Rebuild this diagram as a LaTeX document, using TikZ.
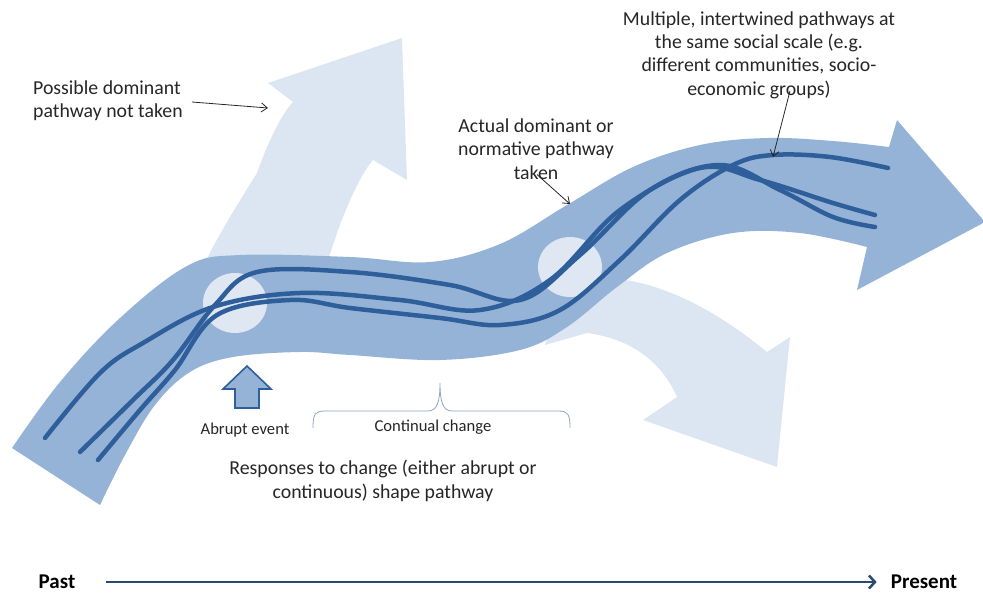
\documentclass[tikz,border=0pt]{standalone}
\usepackage{fontspec}
\setmainfont{Carlito}
\usetikzlibrary{arrows.meta}
\definecolor{bandblue}{HTML}{95B3D7}
\definecolor{lightblue}{HTML}{DCE6F2}
\definecolor{circblue}{HTML}{DEE7F2}
\definecolor{lineblue}{HTML}{2F5F9A}
\definecolor{txt}{HTML}{262626}
\definecolor{axisblue}{HTML}{2B4A73}
\definecolor{bracecol}{HTML}{8CA5C6}
\begin{document}
\begin{tikzpicture}[x=1pt,y=-1pt,
  lbl/.style={font=\fontsize{19.8}{23.4}\selectfont, text=txt, align=center, inner sep=0pt},
  small/.style={font=\fontsize{16.6}{20}\selectfont, text=txt, inner sep=0pt},
  bold/.style={font=\fontsize{21}{24}\selectfont\bfseries, text=black, inner sep=0pt},
  pointer/.style={draw=txt, line width=0.8pt, -{Straight Barb[length=6pt,width=9pt]}},
  pathline/.style={draw=lineblue, line width=4.5pt, line cap=round},
  axisline/.style={draw=axisblue, line width=2.2pt, -{Straight Barb[length=6pt,width=13pt,line width=2.5pt]}},
]
\useasboundingbox (0,0) rectangle (983,597);
\begin{scope}
\clip (0,0) rectangle (983,597);
% light arrow: possible pathway not taken (up)
\fill[lightblue] (195,300) -- (200,273) .. controls (215,240) and (240,200) .. (257,173)
  .. controls (265,150) and (280,115) .. (293,102) -- (268,83) -- (402,38) -- (407,180)
  -- (373,160) .. controls (360,175) and (345,210) .. (337,233)
  .. controls (332,250) and (325,260) .. (323,300) -- cycle;
% light arrow: lower branch
\fill[lightblue] (560,300) -- (625,280) .. controls (660,285) and (710,305) .. (767,352)
  -- (790,337) -- (777,467) -- (643,420) -- (677,397)
  .. controls (665,370) and (640,340) .. (587,333) -- (545,345) -- cycle;
% main band
\fill[bandblue] plot[smooth,tension=0.6] coordinates {(12,448) (60,382) (120,318) (187,266) (240,255) (350,257) (430,262) (500,244) (567,205) (633,167) (700,145) (767,138) (833,141) (889,147)}
  -- (897,120) -- (985,222) -- (857,290) -- (867,247)
  -- plot[smooth,tension=0.6] coordinates {(867,247) (800,233) (733,233) (667,253) (617,287) (567,327) (520,350) (440,360) (350,355) (300,352) (233,357) (190,372) (155,405) (125,455) (100,505)}
  -- cycle;
% light circles
\fill[circblue] (235,303) ellipse [x radius=32pt, y radius=30pt];
\fill[circblue] (570,267) ellipse [x radius=32pt, y radius=30pt];
% pathways
\draw[pathline] plot[smooth,tension=0.6] coordinates {(45,438) (100,373) (143,343) (213,307) (300,293) (400,300) (480,310) (550,280) (620,210) (700,168) (760,180) (833,203) (875,215)};
\draw[pathline] plot[smooth,tension=0.6] coordinates {(80,452) (133,400) (173,360) (215,305) (257,272) (350,272) (450,285) (520,300) (580,255) (650,190) (720,165) (780,190) (833,217) (875,227)};
\draw[pathline] plot[smooth,tension=0.6] coordinates {(98,460) (140,410) (175,370) (217,315) (290,300) (350,308) (440,318) (500,325) (560,310) (620,260) (680,200) (733,165) (773,155) (830,157) (888,168)};
\end{scope}
% abrupt event arrow
\draw[draw=lineblue, fill=bandblue, line width=1.6pt, line join=miter]
  (247,366) -- (271,389) -- (259,389) -- (259,408) -- (235,408) -- (235,389) -- (223,389) -- cycle;
% brace
\draw[bracecol, line width=0.8pt] (313,428) .. controls (313,414) and (315,411) .. (325,411) -- (428,411)
  .. controls (437,411) and (440,402) .. (440,383) .. controls (440,402) and (443,411) .. (452,411)
  -- (558,411) .. controls (568,411) and (570,414) .. (570,428);
% labels
\node[lbl, align=left, anchor=west] (possible) at (33,101) {Possible dominant\\pathway not taken};
\coordinate (possibletip) at (268,108);
\draw[pointer] ([xshift=9pt,yshift=-1pt]possible.east) -- (possibletip);
\node[lbl] (multi) at (759,55) {Multiple, intertwined pathways at\\the same social scale (e.g.\\different communities, socio-\\economic groups)};
\coordinate (multitip) at (773,157);
\draw[pointer] ([xshift=31pt,yshift=8pt]multi.south) -- (multitip);
\node[lbl] (actual) at (536,149) {Actual dominant or\\normative pathway\\taken};
\coordinate (actualtip) at (570,204);
\draw[pointer] ([xshift=1pt,yshift=5pt]actual.south) -- (actualtip);
\node[small] (abrupt) at (245,430) {Abrupt\ event};
\node[small] (continual) at (433,427) {Continual change};
\node[lbl] (responses) at (383,481) {Responses to change (either abrupt or\\continuous) shape pathway};
% time axis
\node[bold] (past) at (57,582) {Past};
\node[bold] (present) at (924,582) {Present};
\draw[axisline] ([xshift=31pt]past.east) -- ([xshift=-14pt]present.west);
\end{tikzpicture}
\end{document}
